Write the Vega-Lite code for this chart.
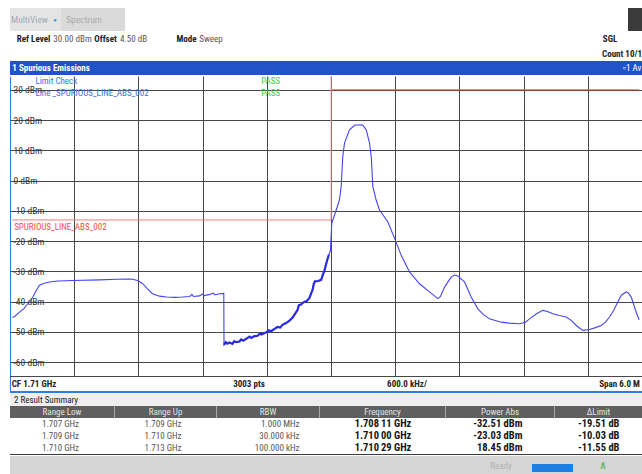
{
"$schema":"https://vega.github.io/schema/vega-lite/v6.json",
"background":"#ffffff",
"padding":{"left":10,"top":8,"right":0,"bottom":0},
"spacing":0,
"config":{
 "concat":{"spacing":0},
 "view":{"stroke":null},
 "font":"Liberation Sans Narrow, Arial Narrow, Roboto Condensed, sans-serif",
 "text":{"font":"Liberation Sans Narrow, Arial Narrow, Roboto Condensed, sans-serif","fontSize":9,"baseline":"middle","color":"#333333"},
 "axis":{"labelFont":"Liberation Sans Narrow, Arial Narrow, Roboto Condensed, sans-serif","labelOverlap":false}
},
"datasets":{
 "trace":[
  {"f":1707.02,"level":-45.2},{"f":1707.04,"level":-45.0},{"f":1707.089,"level":-43.5},{"f":1707.13,"level":-42.3},{"f":1707.154,"level":-41.2},{"f":1707.19,"level":-39.8},{"f":1707.213,"level":-38.5},{"f":1707.245,"level":-36.3},{"f":1707.276,"level":-34.6},{"f":1707.32,"level":-33.9},{"f":1707.369,"level":-33.5},{"f":1707.45,"level":-33.2},{"f":1707.584,"level":-33.0},{"f":1707.836,"level":-32.8},{"f":1708.0,"level":-32.6},{"f":1708.11,"level":-32.51},{"f":1708.145,"level":-32.6},{"f":1708.192,"level":-33.0},{"f":1708.238,"level":-34.0},{"f":1708.285,"level":-35.8},{"f":1708.332,"level":-37.4},{"f":1708.397,"level":-38.2},{"f":1708.463,"level":-38.5},{"f":1708.54,"level":-38.6},{"f":1708.612,"level":-38.5},{"f":1708.68,"level":-38.3},{"f":1708.7,"level":-37.6},{"f":1708.715,"level":-38.3},{"f":1708.771,"level":-38.1},{"f":1708.8,"level":-37.5},{"f":1708.815,"level":-38.0},{"f":1708.86,"level":-37.7},{"f":1708.9,"level":-37.2},{"f":1708.915,"level":-37.8},{"f":1708.96,"level":-37.4},{"f":1708.998,"level":-37.3},
  {"f":1709.0,"level":-54.3},{"f":1709.015,"level":-53.4},{"f":1709.03,"level":-53.9},{"f":1709.05,"level":-53.5},{"f":1709.079,"level":-54.0},{"f":1709.095,"level":-53.1},{"f":1709.11,"level":-53.4},{"f":1709.145,"level":-53.2},{"f":1709.16,"level":-52.5},{"f":1709.18,"level":-52.9},{"f":1709.208,"level":-52.3},{"f":1709.238,"level":-51.6},{"f":1709.255,"level":-52.0},{"f":1709.28,"level":-51.5},{"f":1709.313,"level":-51.3},{"f":1709.335,"level":-50.6},{"f":1709.35,"level":-50.9},{"f":1709.397,"level":-50.1},{"f":1709.42,"level":-49.5},{"f":1709.44,"level":-49.8},{"f":1709.472,"level":-49.0},{"f":1709.5,"level":-48.4},{"f":1709.525,"level":-48.6},{"f":1709.547,"level":-47.7},{"f":1709.58,"level":-47.1},{"f":1709.612,"level":-46.3},{"f":1709.643,"level":-45.2},{"f":1709.665,"level":-44.0},{"f":1709.687,"level":-42.8},{"f":1709.7,"level":-41.2},{"f":1709.72,"level":-41.0},{"f":1709.737,"level":-40.4},{"f":1709.755,"level":-40.0},{"f":1709.771,"level":-39.9},{"f":1709.799,"level":-38.8},{"f":1709.815,"level":-37.2},{"f":1709.827,"level":-36.2},{"f":1709.84,"level":-34.0},{"f":1709.85,"level":-33.3},{"f":1709.88,"level":-33.2},{"f":1709.908,"level":-32.8},{"f":1709.925,"level":-31.0},{"f":1709.939,"level":-29.8},{"f":1709.955,"level":-27.5},{"f":1709.967,"level":-26.0},{"f":1709.98,"level":-24.5},{"f":1709.995,"level":-23.03},
  {"f":1710.007,"level":-14.1},{"f":1710.049,"level":-9.7},{"f":1710.079,"level":-6.4},{"f":1710.095,"level":-2.0},{"f":1710.11,"level":8.0},{"f":1710.126,"level":12.4},{"f":1710.173,"level":16.8},{"f":1710.22,"level":18.3},{"f":1710.248,"level":18.4},{"f":1710.29,"level":18.45},{"f":1710.304,"level":18.0},{"f":1710.329,"level":16.8},{"f":1710.36,"level":12.4},{"f":1710.376,"level":8.0},{"f":1710.391,"level":-2.0},{"f":1710.422,"level":-6.4},{"f":1710.453,"level":-9.7},{"f":1710.531,"level":-13.6},{"f":1710.594,"level":-19.1},{"f":1710.656,"level":-24.7},{"f":1710.734,"level":-30.2},{"f":1710.827,"level":-34.1},{"f":1710.921,"level":-36.8},{"f":1710.998,"level":-39.0},{"f":1711.023,"level":-38.3},{"f":1711.061,"level":-35.2},{"f":1711.123,"level":-31.9},{"f":1711.154,"level":-31.2},{"f":1711.185,"level":-31.5},{"f":1711.248,"level":-33.5},{"f":1711.31,"level":-38.5},{"f":1711.372,"level":-42.4},{"f":1711.425,"level":-44.3},{"f":1711.481,"level":-45.7},{"f":1711.591,"level":-46.8},{"f":1711.668,"level":-47.1},{"f":1711.762,"level":-47.3},{"f":1711.818,"level":-46.8},{"f":1711.855,"level":-45.7},{"f":1711.921,"level":-44.0},{"f":1711.98,"level":-42.9},{"f":1712.023,"level":-43.3},{"f":1712.074,"level":-44.0},{"f":1712.136,"level":-44.6},{"f":1712.198,"level":-45.1},{"f":1712.248,"level":-46.3},{"f":1712.292,"level":-47.9},{"f":1712.353,"level":-49.5},{"f":1712.416,"level":-49.2},{"f":1712.472,"level":-48.6},{"f":1712.525,"level":-47.9},{"f":1712.565,"level":-46.8},{"f":1712.603,"level":-45.1},{"f":1712.64,"level":-43.0},{"f":1712.68,"level":-40.1},{"f":1712.715,"level":-37.8},{"f":1712.759,"level":-36.8},{"f":1712.78,"level":-37.2},{"f":1712.806,"level":-38.5},{"f":1712.852,"level":-43.5},{"f":1712.88,"level":-46.0}
 ],
 "limit":[
  {"f":1707.02,"level":-13,"seg":"low","line":"SPURIOUS_LINE_ABS_002"},
  {"f":1710,"level":-13,"seg":"low","line":"SPURIOUS_LINE_ABS_002"},
  {"f":1710,"level":30,"seg":"high","line":"SPURIOUS_LINE_ABS_002"},
  {"f":1712.88,"level":30,"seg":"high","line":"SPURIOUS_LINE_ABS_002"}
 ],
 "summary":[
  {"rangeLow":"1.707 GHz","rangeUp":"1.709 GHz","rbw":"1.000 MHz","frequency":"1.708\u200911 GHz","powerAbs":"-32.51 dBm","deltaLimit":"-19.51 dB"},
  {"rangeLow":"1.709 GHz","rangeUp":"1.710 GHz","rbw":"30.000 kHz","frequency":"1.710\u200900 GHz","powerAbs":"-23.03 dBm","deltaLimit":"-10.03 dB"},
  {"rangeLow":"1.710 GHz","rangeUp":"1.713 GHz","rbw":"100.000 kHz","frequency":"1.710\u200929 GHz","powerAbs":"18.45 dBm","deltaLimit":"-11.55 dB"}
 ]
},
"vconcat":[
 {"spacing":0,"bounds":"flush","hconcat":[
  {"width":39,"height":23,"view":{"fill":"#e4e4e4","stroke":null},"data":{"values":[{"t":"MultiView"}]},"mark":{"type":"text","color":"#a4aab6","fontSize":9.5},"encoding":{"text":{"field":"t"}}},
  {"width":12,"height":23,"view":{"fill":"#e4e4e4","stroke":null},"data":{"values":[{"t":"●"}]},"mark":{"type":"text","color":"#3d8fe0","fontSize":6},"encoding":{"text":{"field":"t"}}},
  {"width":46,"height":23,"view":{"fill":"#dadada","stroke":null},"data":{"values":[{"t":"Spectrum"}]},"mark":{"type":"text","color":"#ababab","fontSize":9.5},"encoding":{"text":{"field":"t"}}},
  {"width":18,"height":23,"view":{"fill":"#dadada","stroke":null},"data":{"values":[]},"mark":"text","encoding":{"text":{"value":""}}},
  {"width":503,"height":23,"view":{"stroke":null},"data":{"values":[]},"mark":"text","encoding":{"text":{"value":""}}},
  {"width":14,"height":23,"view":{"fill":"#3b3b3b","stroke":null},"data":{"values":[]},"mark":"text","encoding":{"text":{"value":""}}}
 ]},
 {"spacing":0,"bounds":"flush","hconcat":[
  {"width":47,"height":16,"data":{"values":[{"t":"Ref Level"}]},"mark":{"type":"text","color":"#222222","fontWeight":"bold","fontSize":9},"encoding":{"text":{"field":"t"}}},
  {"width":31,"height":16,"data":{"values":[{"t":"30.00 dBm"}]},"mark":{"type":"text","color":"#555555","fontSize":9},"encoding":{"text":{"field":"t"}}},
  {"width":35,"height":16,"data":{"values":[{"t":"Offset"}]},"mark":{"type":"text","color":"#222222","fontWeight":"bold","fontSize":9},"encoding":{"text":{"field":"t"}}},
  {"width":21,"height":16,"data":{"values":[{"t":"4.50 dB"}]},"mark":{"type":"text","color":"#555555","fontSize":9},"encoding":{"text":{"field":"t"}}},
  {"width":29,"height":16,"data":{"values":[]},"mark":"text","encoding":{"text":{"value":""}}},
  {"width":27,"height":16,"data":{"values":[{"t":"Mode"}]},"mark":{"type":"text","color":"#222222","fontWeight":"bold","fontSize":9},"encoding":{"text":{"field":"t"}}},
  {"width":22,"height":16,"data":{"values":[{"t":"Sweep"}]},"mark":{"type":"text","color":"#555555","fontSize":9},"encoding":{"text":{"field":"t"}}},
  {"width":368,"height":16,"data":{"values":[]},"mark":"text","encoding":{"text":{"value":""}}},
  {"width":40,"height":16,"data":{"values":[{"t":"SGL"}]},"mark":{"type":"text","color":"#222222","fontWeight":"bold","fontSize":9},"encoding":{"text":{"field":"t"}}},
  {"width":12,"height":16,"data":{"values":[]},"mark":"text","encoding":{"text":{"value":""}}}
 ]},
 {"spacing":0,"bounds":"flush","hconcat":[
  {"width":592,"height":14,"data":{"values":[]},"mark":"text","encoding":{"text":{"value":""}}},
  {"width":40,"height":14,"data":{"values":[{"t":"Count 10/10"}]},"mark":{"type":"text","color":"#222222","fontWeight":"bold","limit":40,"ellipsis":"\u200b"},"encoding":{"text":{"field":"t"}}}
 ]},
 {"spacing":0,"bounds":"flush","hconcat":[
  {"width":82,"height":14,"view":{"fill":"#2152c8","stroke":null},"data":{"values":[{"t":"1 Spurious Emissions"}]},"mark":{"type":"text","color":"#ffffff","fontWeight":"bold"},"encoding":{"text":{"field":"t"}}},
  {"width":530,"height":14,"view":{"fill":"#2152c8","stroke":null},"data":{"values":[]},"mark":"text","encoding":{"text":{"value":""}}},
  {"width":20,"height":14,"view":{"fill":"#2152c8","stroke":null},"data":{"values":[{"t":"▫1 Avg"}]},"mark":{"type":"text","color":"#ffffff","limit":20,"ellipsis":"\u200b"},"encoding":{"text":{"field":"t"}}}
 ]},
 {"width":632,"height":300,"view":{"fill":"#ffffff","stroke":null},
  "layer":[
   {"data":{"name":"trace"},
    "mark":{"type":"line","color":"#4444f0","strokeWidth":1.1,"clip":true},
    "encoding":{
     "x":{"field":"f","type":"quantitative","scale":{"domain":[1707,1712.9065],"nice":false,"zero":false},
      "axis":{"values":[1707,1707.6,1708.2,1708.8,1709.4,1710,1710.6,1711.2,1711.8,1712.4],"grid":true,"gridColor":{"condition":{"test":"datum.value < 1707.1","value":"#2f7de1"},"value":"#474747"},"gridWidth":1,"labels":false,"ticks":false,"domain":false,"title":null}},
     "y":{"field":"level","type":"quantitative","scale":{"domain":[-64.6,34.6],"nice":false,"zero":false},
      "axis":{"values":[-60,-50,-40,-30,-20,-10,0,10,20,30],"grid":true,"gridColor":"#474747","gridWidth":1,"labelExpr":"datum.value + ' dBm'","labelAlign":"left","labelBaseline":"middle","labelPadding":-3,"ticks":false,"tickSize":0,"domain":false,"labelFontSize":9.5,"labelColor":"#333333","labelOverlap":false,"title":null}}
    }},
   {"data":{"name":"trace"},"transform":[{"filter":"datum.f >= 1709 && datum.f <= 1709.99"}],
    "mark":{"type":"line","color":"#2a2ae4","strokeWidth":2.2,"clip":true},
    "encoding":{
     "x":{"field":"f","type":"quantitative","axis":{"values":[1707,1707.6,1708.2,1708.8,1709.4,1710,1710.6,1711.2,1711.8,1712.4],"grid":true,"gridColor":{"condition":{"test":"datum.value < 1707.1","value":"#2f7de1"},"value":"#474747"},"gridWidth":1,"labels":false,"ticks":false,"domain":false,"title":null}},
     "y":{"field":"level","type":"quantitative","axis":{"values":[-60,-50,-40,-30,-20,-10,0,10,20,30],"grid":true,"gridColor":"#474747","gridWidth":1,"labelExpr":"datum.value + ' dBm'","labelAlign":"left","labelBaseline":"middle","labelPadding":-3,"ticks":false,"tickSize":0,"domain":false,"labelFontSize":9.5,"labelColor":"#333333","labelOverlap":false,"title":null}}}},
   {"data":{"name":"limit"},
    "mark":{"type":"line","strokeWidth":1,"clip":true},
    "encoding":{
     "x":{"field":"f","type":"quantitative","axis":{"values":[1707,1707.6,1708.2,1708.8,1709.4,1710,1710.6,1711.2,1711.8,1712.4],"grid":true,"gridColor":{"condition":{"test":"datum.value < 1707.1","value":"#2f7de1"},"value":"#474747"},"gridWidth":1,"labels":false,"ticks":false,"domain":false,"title":null}},
     "y":{"field":"level","type":"quantitative","axis":{"values":[-60,-50,-40,-30,-20,-10,0,10,20,30],"grid":true,"gridColor":"#474747","gridWidth":1,"labelExpr":"datum.value + ' dBm'","labelAlign":"left","labelBaseline":"middle","labelPadding":-3,"ticks":false,"tickSize":0,"domain":false,"labelFontSize":9.5,"labelColor":"#333333","labelOverlap":false,"title":null}},
     "color":{"field":"seg","type":"nominal","scale":{"domain":["low","high"],"range":["#f27b7b","#d8432f"]},"legend":null}}},
   {"data":{"values":[{}]},
    "mark":{"type":"rule","color":"#f0a8a8","strokeWidth":1},
    "encoding":{
     "x":{"datum":1710,"type":"quantitative","axis":{"values":[1707,1707.6,1708.2,1708.8,1709.4,1710,1710.6,1711.2,1711.8,1712.4],"grid":true,"gridColor":{"condition":{"test":"datum.value < 1707.1","value":"#2f7de1"},"value":"#474747"},"gridWidth":1,"labels":false,"ticks":false,"domain":false,"title":null}},
     "y":{"datum":-13,"type":"quantitative","axis":{"values":[-60,-50,-40,-30,-20,-10,0,10,20,30],"grid":true,"gridColor":"#474747","gridWidth":1,"labelExpr":"datum.value + ' dBm'","labelAlign":"left","labelBaseline":"middle","labelPadding":-3,"ticks":false,"tickSize":0,"domain":false,"labelFontSize":9.5,"labelColor":"#333333","labelOverlap":false,"title":null}},
     "y2":{"datum":34.6}}},
   {"data":{"name":"limit"},"transform":[{"filter":"datum.f < 1708"}],
    "mark":{"type":"text","align":"left","baseline":"top","dx":2,"dy":3,"color":"#f24b4b","fontSize":9},
    "encoding":{
     "x":{"field":"f","type":"quantitative","axis":{"values":[1707,1707.6,1708.2,1708.8,1709.4,1710,1710.6,1711.2,1711.8,1712.4],"grid":true,"gridColor":{"condition":{"test":"datum.value < 1707.1","value":"#2f7de1"},"value":"#474747"},"gridWidth":1,"labels":false,"ticks":false,"domain":false,"title":null}},
     "y":{"field":"level","type":"quantitative","axis":{"values":[-60,-50,-40,-30,-20,-10,0,10,20,30],"grid":true,"gridColor":"#474747","gridWidth":1,"labelExpr":"datum.value + ' dBm'","labelAlign":"left","labelBaseline":"middle","labelPadding":-3,"ticks":false,"tickSize":0,"domain":false,"labelFontSize":9.5,"labelColor":"#333333","labelOverlap":false,"title":null}},
     "text":{"field":"line"}}},
   {"data":{"values":[{"items":["Limit Check","Line _SPURIOUS_LINE_ABS_002"],"results":["PASS","PASS"]}]},
    "mark":{"type":"text","align":"left","baseline":"top","dy":1,"lineHeight":12,"color":"#3d6fe0","fontSize":9},
    "encoding":{
     "x":{"datum":1707.238,"type":"quantitative","axis":{"values":[1707,1707.6,1708.2,1708.8,1709.4,1710,1710.6,1711.2,1711.8,1712.4],"grid":true,"gridColor":{"condition":{"test":"datum.value < 1707.1","value":"#2f7de1"},"value":"#474747"},"gridWidth":1,"labels":false,"ticks":false,"domain":false,"title":null}},
     "y":{"datum":34.6,"type":"quantitative","axis":{"values":[-60,-50,-40,-30,-20,-10,0,10,20,30],"grid":true,"gridColor":"#474747","gridWidth":1,"labelExpr":"datum.value + ' dBm'","labelAlign":"left","labelBaseline":"middle","labelPadding":-3,"ticks":false,"tickSize":0,"domain":false,"labelFontSize":9.5,"labelColor":"#333333","labelOverlap":false,"title":null}},
     "text":{"field":"items"}}},
   {"data":{"values":[{"items":["Limit Check","Line _SPURIOUS_LINE_ABS_002"],"results":["PASS","PASS"]}]},
    "mark":{"type":"text","align":"left","baseline":"top","dy":1,"lineHeight":12,"color":"#3ccf3c","fontSize":9},
    "encoding":{
     "x":{"datum":1709.348,"type":"quantitative","axis":{"values":[1707,1707.6,1708.2,1708.8,1709.4,1710,1710.6,1711.2,1711.8,1712.4],"grid":true,"gridColor":{"condition":{"test":"datum.value < 1707.1","value":"#2f7de1"},"value":"#474747"},"gridWidth":1,"labels":false,"ticks":false,"domain":false,"title":null}},
     "y":{"datum":34.6,"type":"quantitative","axis":{"values":[-60,-50,-40,-30,-20,-10,0,10,20,30],"grid":true,"gridColor":"#474747","gridWidth":1,"labelExpr":"datum.value + ' dBm'","labelAlign":"left","labelBaseline":"middle","labelPadding":-3,"ticks":false,"tickSize":0,"domain":false,"labelFontSize":9.5,"labelColor":"#333333","labelOverlap":false,"title":null}},
     "text":{"field":"results"}}}
  ]},
 {"width":632,"height":1,"view":{"fill":"#474747","stroke":null},"data":{"values":[]},"mark":"text","encoding":{"text":{"value":""}}},
 {"spacing":0,"bounds":"flush","hconcat":[
  {"width":1,"height":14,"view":{"fill":"#2f7de1","stroke":null},"data":{"values":[]},"mark":"text","encoding":{"text":{"value":""}}},
  {"width":46,"height":14,"data":{"values":[{"t":"CF 1.71 GHz"}]},"mark":{"type":"text","color":"#222222","fontWeight":"bold"},"encoding":{"text":{"field":"t"}}},
  {"width":169,"height":14,"data":{"values":[]},"mark":"text","encoding":{"text":{"value":""}}},
  {"width":46,"height":14,"data":{"values":[{"t":"3003 pts"}]},"mark":{"type":"text","color":"#222222","fontWeight":"bold"},"encoding":{"text":{"field":"t"}}},
  {"width":112,"height":14,"data":{"values":[]},"mark":"text","encoding":{"text":{"value":""}}},
  {"width":46,"height":14,"data":{"values":[{"t":"600.0 kHz/"}]},"mark":{"type":"text","color":"#222222","fontWeight":"bold"},"encoding":{"text":{"field":"t"}}},
  {"width":167,"height":14,"data":{"values":[]},"mark":"text","encoding":{"text":{"value":""}}},
  {"width":45,"height":14,"data":{"values":[{"t":"Span 6.0 MHz"}]},"mark":{"type":"text","color":"#222222","fontWeight":"bold","limit":45,"ellipsis":"\u200b"},"encoding":{"text":{"field":"t"}}}
 ]},
 {"width":632,"height":2,"view":{"fill":"#2f7de1","stroke":null},"data":{"values":[]},"mark":"text","encoding":{"text":{"value":""}}},
 {"spacing":0,"bounds":"flush","hconcat":[
  {"width":72,"height":13,"view":{"fill":"#efefef","stroke":null},"data":{"values":[{"t":"2 Result Summary"}]},"mark":{"type":"text","color":"#222222"},"encoding":{"text":{"field":"t"}}},
  {"width":560,"height":13,"view":{"fill":"#efefef","stroke":null},"data":{"values":[]},"mark":"text","encoding":{"text":{"value":""}}}
 ]},
 {"spacing":0,"bounds":"flush","hconcat":[
  {"width":104,"height":12,"view":{"fill":"#5f5f5f","stroke":null},"data":{"values":[{"t":"Range Low"}]},"mark":{"type":"text","color":"#e2e2e2"},"encoding":{"text":{"field":"t"}}},
  {"width":1,"height":12,"view":{"fill":"#a8a8a8","stroke":null},"data":{"values":[]},"mark":"text","encoding":{"text":{"value":""}}},
  {"width":101,"height":12,"view":{"fill":"#5f5f5f","stroke":null},"data":{"values":[{"t":"Range Up"}]},"mark":{"type":"text","color":"#e2e2e2"},"encoding":{"text":{"field":"t"}}},
  {"width":1,"height":12,"view":{"fill":"#a8a8a8","stroke":null},"data":{"values":[]},"mark":"text","encoding":{"text":{"value":""}}},
  {"width":102,"height":12,"view":{"fill":"#5f5f5f","stroke":null},"data":{"values":[{"t":"RBW"}]},"mark":{"type":"text","color":"#e2e2e2"},"encoding":{"text":{"field":"t"}}},
  {"width":1,"height":12,"view":{"fill":"#a8a8a8","stroke":null},"data":{"values":[]},"mark":"text","encoding":{"text":{"value":""}}},
  {"width":125,"height":12,"view":{"fill":"#5f5f5f","stroke":null},"data":{"values":[{"t":"Frequency"}]},"mark":{"type":"text","color":"#e2e2e2"},"encoding":{"text":{"field":"t"}}},
  {"width":1,"height":12,"view":{"fill":"#a8a8a8","stroke":null},"data":{"values":[]},"mark":"text","encoding":{"text":{"value":""}}},
  {"width":108,"height":12,"view":{"fill":"#5f5f5f","stroke":null},"data":{"values":[{"t":"Power Abs"}]},"mark":{"type":"text","color":"#e2e2e2"},"encoding":{"text":{"field":"t"}}},
  {"width":1,"height":12,"view":{"fill":"#a8a8a8","stroke":null},"data":{"values":[]},"mark":"text","encoding":{"text":{"value":""}}},
  {"width":87,"height":12,"view":{"fill":"#5f5f5f","stroke":null},"data":{"values":[{"t":"ΔLimit"}]},"mark":{"type":"text","color":"#e2e2e2"},"encoding":{"text":{"field":"t"}}}
 ]},
 {"spacing":0,"bounds":"flush","hconcat":[
  {"width":105,"height":36,"data":{"name":"summary"},"mark":{"type":"text","color":"#555555","dx":-2},"encoding":{"y":{"field":"rangeLow","type":"ordinal","sort":null,"axis":null,"scale":{"paddingInner":0,"paddingOuter":0}},"text":{"field":"rangeLow"}}},
  {"width":102,"height":36,"data":{"name":"summary"},"mark":{"type":"text","color":"#555555","dx":-3},"encoding":{"y":{"field":"rangeLow","type":"ordinal","sort":null,"axis":null,"scale":{"paddingInner":0,"paddingOuter":0}},"text":{"field":"rangeUp"}}},
  {"width":103,"height":36,"data":{"name":"summary"},"mark":{"type":"text","color":"#555555","align":"right","dx":31},"encoding":{"y":{"field":"rangeLow","type":"ordinal","sort":null,"axis":null,"scale":{"paddingInner":0,"paddingOuter":0}},"text":{"field":"rbw"}}},
  {"width":126,"height":36,"data":{"name":"summary"},"mark":{"type":"text","color":"#151515","fontSize":10.5,"fontWeight":"bold"},"encoding":{"y":{"field":"rangeLow","type":"ordinal","sort":null,"axis":null,"scale":{"paddingInner":0,"paddingOuter":0}},"text":{"field":"frequency"}}},
  {"width":109,"height":36,"data":{"name":"summary"},"mark":{"type":"text","color":"#151515","fontSize":10.5,"fontWeight":"bold","align":"right","dx":22},"encoding":{"y":{"field":"rangeLow","type":"ordinal","sort":null,"axis":null,"scale":{"paddingInner":0,"paddingOuter":0}},"text":{"field":"powerAbs"}}},
  {"width":87,"height":36,"data":{"name":"summary"},"mark":{"type":"text","color":"#151515","fontSize":10.5,"fontWeight":"bold","align":"right","dx":21},"encoding":{"y":{"field":"rangeLow","type":"ordinal","sort":null,"axis":null,"scale":{"paddingInner":0,"paddingOuter":0}},"text":{"field":"deltaLimit"}}}
 ]},
 {"width":632,"height":1,"view":{"fill":"#3a3a3a","stroke":null},"data":{"values":[]},"mark":"text","encoding":{"text":{"value":""}}},
 {"width":632,"height":1,"view":{"fill":"#ffffff","stroke":null},"data":{"values":[]},"mark":"text","encoding":{"text":{"value":""}}},
 {"spacing":0,"hconcat":[
  {"width":471,"height":19,"view":{"fill":"#d5d5d5","stroke":null},"data":{"values":[]},"mark":"text","encoding":{"text":{"value":""}}},
  {"width":40,"height":19,"view":{"fill":"#d5d5d5","stroke":null},"data":{"values":[{"t":"Ready"}]},"mark":{"type":"text","color":"#b3b3b3"},"encoding":{"text":{"field":"t"}}},
  {"width":11,"height":19,"view":{"fill":"#d5d5d5","stroke":null},"data":{"values":[]},"mark":"text","encoding":{"text":{"value":""}}},
  {"spacing":0,"bounds":"flush","vconcat":[
   {"width":41,"height":8,"view":{"fill":"#d5d5d5","stroke":null},"data":{"values":[]},"mark":"text","encoding":{"text":{"value":""}}},
   {"width":41,"height":8,"view":{"fill":"#1f7fe0","stroke":null},"data":{"values":[]},"mark":"text","encoding":{"text":{"value":""}}},
   {"width":41,"height":3,"view":{"fill":"#d5d5d5","stroke":null},"data":{"values":[]},"mark":"text","encoding":{"text":{"value":""}}}
  ]},
  {"width":24,"height":19,"view":{"fill":"#d5d5d5","stroke":null},"data":{"values":[]},"mark":"text","encoding":{"text":{"value":""}}},
  {"width":12,"height":19,"view":{"fill":"#d5d5d5","stroke":null},"data":{"values":[{"t":"Λ"}]},"mark":{"type":"text","color":"#5cb85c","fontWeight":"bold"},"encoding":{"text":{"field":"t"}}},
  {"width":33,"height":19,"view":{"fill":"#d5d5d5","stroke":null},"data":{"values":[]},"mark":"text","encoding":{"text":{"value":""}}}
 ]}
]
}
